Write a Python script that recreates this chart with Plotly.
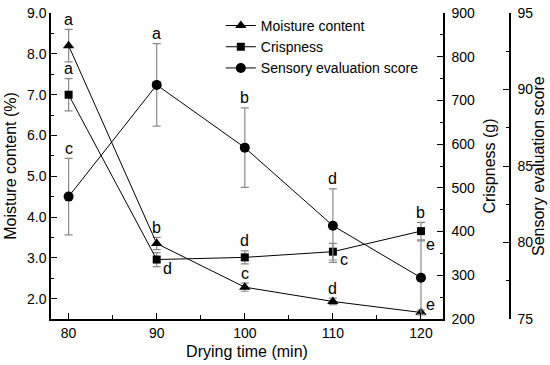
import plotly.graph_objects as go

time = [80, 90, 100, 110, 120]
moisture = [8.2, 3.35, 2.28, 1.93, 1.66]
moisture_err = [0.4, 0.15, 0.1, 0.08, 0.06]
moisture_letters = ["a", "b", "c", "d", "e"]
crispness = [713, 336, 341, 354, 401]
crispness_err = [37, 16, 15, 19, 20]
crispness_letters = ["a", "d", "d", "c", "b"]
sensory = [83.0, 90.3, 86.2, 81.1, 77.7]
sensory_err = [2.5, 2.7, 2.6, 2.4, 2.4]
sensory_letters = ["c", "a", "b", "d", "e"]

FONT = "Liberation Sans, Arial, sans-serif"
ERRC = "#8a8a8a"
L, R, T, B = 51, 40, 10, 46
W, H = 550, 365
PW = W - L - R

fig = go.Figure()

def add_series(y, err, name, symbol, size, axis):
    fig.add_trace(go.Scatter(
        x=time, y=y, name=name, yaxis=axis, mode="lines+markers",
        line=dict(color="black", width=1),
        marker=dict(symbol=symbol, size=size, color="black"),
        error_y=dict(type="data", array=err, color=ERRC, thickness=1.2, width=4),
        cliponaxis=False,
    ))

add_series(moisture, moisture_err, "Moisture content", "triangle-up", 10, "y")
add_series(crispness, crispness_err, "Crispness", "square", 8, "y2")
add_series(sensory, sensory_err, "Sensory evaluation score", "circle", 10, "y3")

def add_letters(vals, errs, letters, yref, right=None):
    right = right or {}
    for i, (x, v, e, t) in enumerate(zip(time, vals, errs, letters)):
        if i in right:
            base, xs, ys = right[i]
            yv = v + e if base == "top" else v
            fig.add_annotation(x=x, y=yv, xref="x", yref=yref, text=t, showarrow=False,
                               xanchor="left", yanchor="middle", xshift=xs, yshift=ys,
                               font=dict(family=FONT, size=16, color="black"))
        else:
            fig.add_annotation(x=x, y=v + e, xref="x", yref=yref, text=t, showarrow=False,
                               xanchor="center", yanchor="middle", yshift=10,
                               font=dict(family=FONT, size=16, color="black"))

add_letters(moisture, moisture_err, moisture_letters, "y", right={4: ("val", 3, 8)})
add_letters(crispness, crispness_err, crispness_letters, "y2",
            right={1: ("val", 4, -9), 3: ("val", 5, -8)})
add_letters(sensory, sensory_err, sensory_letters, "y3", right={4: ("top", 3, -4)})

fig.add_annotation(text="Sensory evaluation score", xref="paper", yref="paper",
                   x=(538 - L) / PW, y=0.5, textangle=-90, showarrow=False,
                   xanchor="center", yanchor="middle",
                   font=dict(family=FONT, size=16, color="black"))

axis_common = dict(showline=True, linecolor="black", linewidth=1.5, showgrid=False,
                   zeroline=False, tickcolor="black", tickwidth=1.2, automargin=False,
                   tickfont=dict(family=FONT, size=14, color="black"),
                   title_font=dict(family=FONT, size=16, color="black"))

fig.update_layout(
    width=W, height=H,
    margin=dict(l=L, r=R, t=T, b=B),
    paper_bgcolor="white", plot_bgcolor="white",
    font=dict(family=FONT, color="black"),
    xaxis=dict(**axis_common, domain=[0, (443 - L) / PW], range=[78, 122.5],
               tickvals=time, ticks="inside", ticklen=6,
               minor=dict(dtick=5, tick0=80, ticks="inside", ticklen=4, tickcolor="black"),
               title=dict(text="Drying time (min)", standoff=6)),
    yaxis=dict(**axis_common, range=[1.5, 9.0], tickvals=[2, 3, 4, 5, 6, 7, 8, 9],
               tickformat=".1f", ticks="inside", ticklen=6, ticklabelstandoff=0,
               minor=dict(dtick=0.5, tick0=1.5, ticks="inside", ticklen=3, tickcolor="black"),
               title=dict(text="Moisture content (%)", standoff=6)),
    yaxis2=dict(**axis_common, overlaying="y", side="right", anchor="x",
                range=[200, 900], tickvals=[200, 300, 400, 500, 600, 700, 800, 900],
                ticks="inside", ticklen=6, ticklabelstandoff=4,
                minor=dict(dtick=50, tick0=200, ticks="inside", ticklen=3, tickcolor="black"),
                title=dict(text="Crispness (g)", standoff=10)),
    yaxis3=dict(**axis_common, overlaying="y", side="right", anchor="free", position=1.0,
                range=[75, 95], tickvals=[75, 80, 85, 90, 95],
                ticks="inside", ticklen=6, ticklabelstandoff=4,
                minor=dict(dtick=2.5, tick0=75, ticks="inside", ticklen=3, tickcolor="black")),
    legend=dict(x=0.37, y=1.01, xanchor="left", yanchor="top",
                bgcolor="rgba(0,0,0,0)", font=dict(family=FONT, size=14, color="black"),
                tracegroupgap=0, itemwidth=30),
    showlegend=True,
)

fig.write_html("out.html", config={"displayModeBar": False},
               post_script="document.body.style.margin='0';document.body.style.overflow='hidden';")
